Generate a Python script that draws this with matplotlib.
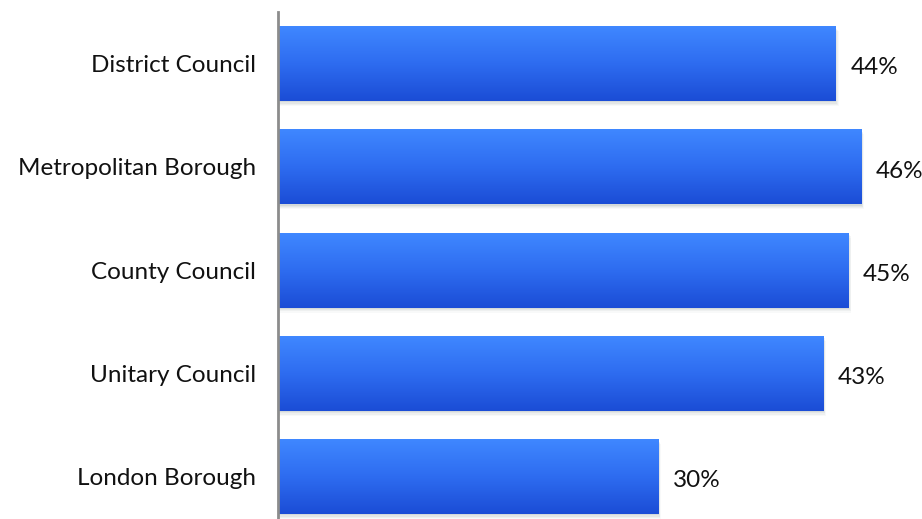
import matplotlib.pyplot as plt
import numpy as np
from matplotlib.colors import LinearSegmentedColormap
from matplotlib.patches import Rectangle

categories = ["District Council", "Metropolitan Borough", "County Council",
              "Unitary Council", "London Borough"]
values = [44, 46, 45, 43, 30]
labels = ["44%", "46%", "45%", "43%", "30%"]

plt.rcParams['font.family'] = ['Lato', 'DejaVu Sans']

fig = plt.figure(figsize=(9.22, 5.19), dpi=100)
ax = fig.add_axes([278 / 922, 0, 1 - 278 / 922, 1 - 12 / 519])

grad = LinearSegmentedColormap.from_list("bar", ["#3f87ff", "#2e6cf0", "#1b4dd6"])
g = np.linspace(0, 1, 64).reshape(-1, 1)
h = 0.726

for i, (v, lab) in enumerate(zip(values, labels)):
    # soft drop shadow under each bar
    for k, a in enumerate([0.10, 0.08, 0.06, 0.04]):
        off = 0.012 + k * 0.012
        ax.add_patch(Rectangle((0, i - h / 2 + off), v + 0.05 + k * 0.06, h,
                               facecolor="#5a6e6e", alpha=a, lw=0, zorder=1))
    ax.imshow(g, cmap=grad, aspect="auto", zorder=2,
              extent=(0, v, i + h / 2, i - h / 2))
    ax.text(v + 1.15, i + 0.04, lab, va="center", ha="left", fontsize=17.5, color="#111111")

ax.set_xlim(0, 50.8)
ax.set_ylim(4.41, -0.5)
ax.set_yticks(range(len(categories)))
ax.set_yticklabels(categories, fontsize=17.5, color="#111111")
ax.tick_params(axis="y", length=0, pad=16)
ax.set_xticks([])
for s in ["top", "right", "bottom"]:
    ax.spines[s].set_visible(False)
ax.spines["left"].set_color("#8c8c8c")
ax.spines["left"].set_linewidth(2)
ax.spines["left"].set_zorder(5)

fig.savefig("out.png", dpi=100)
